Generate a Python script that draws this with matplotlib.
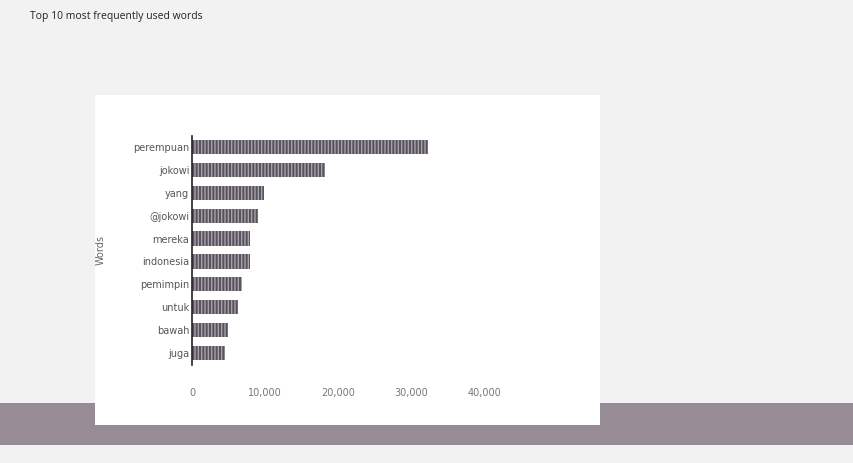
import matplotlib
matplotlib.use("Agg")
import matplotlib.pyplot as plt
from matplotlib.patches import Rectangle

words = ["perempuan", "jokowi", "yang", "@jokowi", "mereka",
         "indonesia", "pemimpin", "untuk", "bawah", "juga"]
counts = [32300, 18200, 9900, 9000, 7900, 7900, 6900, 6300, 4900, 4500]
xticks = [0, 10000, 20000, 30000, 40000]
xticklabels = ["0", "10,000", "20,000", "30,000", "40,000"]

W, H = 854, 463
fig = plt.figure(figsize=(W / 100, H / 100), dpi=100)
fig.patch.set_facecolor("#f2f2f2")

# page background pieces (photo of a printed page)
fig.patches.append(Rectangle((0, 0), 1, 1 - 403 / H, transform=fig.transFigure,
                             facecolor="#978c96", edgecolor="none", zorder=0))
fig.patches.append(Rectangle((95 / W, 1 - 425 / H), (600 - 95) / W, (425 - 95) / H,
                             transform=fig.transFigure, facecolor="white",
                             edgecolor="none", zorder=0.5))
fig.patches.append(Rectangle((0, 0), 1, 1 - 445 / H, transform=fig.transFigure,
                             facecolor="#f2f2f2", edgecolor="none", zorder=0.6))

fig.text(30 / W, 1 - 17 / H, "Top 10 most frequently used words",
         fontsize=7.5, color="#222222", ha="left", va="center",
         family="Open Sans")

left, right = 192 / W, 484 / W
top, bottom = 1 - 135.5 / H, 1 - 364.5 / H
ax = fig.add_axes([left, bottom, right - left, top - bottom])
ax.set_zorder(5)
ax.set_facecolor("none")

y = list(range(len(words)))
ax.barh(y, counts, height=0.62, color="#58525c", edgecolor="#a8a0aa",
        hatch="|||||", linewidth=0, zorder=2)
ax.set_ylim(len(words) - 0.5, -0.5)
ax.set_xlim(0, 40000)
ax.set_yticks(y)
ax.set_yticklabels(words, fontsize=7, color="#555555")
ax.set_xticks(xticks)
ax.set_xticklabels(xticklabels, fontsize=7, color="#777777")
ax.tick_params(axis="x", length=0, pad=17)
ax.tick_params(axis="y", length=0, pad=2)
for s in ["top", "right", "bottom"]:
    ax.spines[s].set_visible(False)
ax.spines["left"].set_color("#222222")
ax.spines["left"].set_linewidth(1.2)
ax.set_ylabel("Words", fontsize=7, color="#666666", labelpad=20)

fig.savefig("out.png", dpi=100, facecolor=fig.get_facecolor())
